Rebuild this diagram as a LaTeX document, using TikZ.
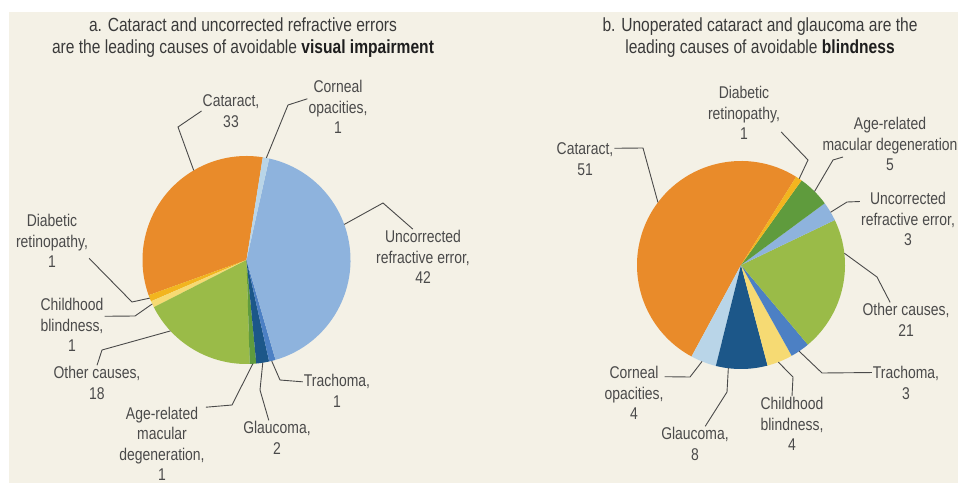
\documentclass[tikz,border=0pt]{standalone}
\usepackage{fontspec}
\setmainfont{Liberation Sans}[FakeStretch=0.82]
\usetikzlibrary{calc}
\definecolor{cream}{HTML}{F4F1E6}
\definecolor{labgray}{HTML}{4A4A4A}
\definecolor{leadgray}{HTML}{4A4A4A}
\definecolor{ttlgray}{HTML}{3A3A3A}
\definecolor{ttlbold}{HTML}{1E1E1E}
\definecolor{cataract}{HTML}{E98B2A}
\definecolor{uncorr}{HTML}{8EB3DD}
\definecolor{corneal}{HTML}{B9D5E8}
\definecolor{other}{HTML}{9ABB48}
\definecolor{amd}{HTML}{5F9B3D}
\definecolor{glaucoma}{HTML}{1C5789}
\definecolor{trachoma}{HTML}{4C80C4}
\definecolor{childhood}{HTML}{F6DA73}
\definecolor{diabetic}{HTML}{F2B51F}
\begin{document}
\begin{tikzpicture}[x=1pt,y=1pt]
          \tikzstyle{lbl}=[align=center,inner sep=1pt,text=labgray,font=\fontsize{17}{20.5}\selectfont];
          \tikzstyle{ttl}=[align=center,inner sep=1pt,text=ttlgray,font=\fontsize{19}{22}\selectfont];
          \tikzstyle{leader}=[draw=leadgray,line width=0.9pt];
          \useasboundingbox (0,0) rectangle (958,483);
          \fill[cream] (9,0) rectangle (958,471);
          \coordinate (pa) at (246.5,223);
          \coordinate (pb) at (741,218);
          % a. visual impairment (1% = 3.6 deg)
          \fill[cataract] (pa) -- ++(81:104pt) arc[start angle=81,end angle=199.8,radius=104pt] -- cycle;
          \fill[diabetic] (pa) -- ++(199.8:104pt) arc[start angle=199.8,end angle=203.4,radius=104pt] -- cycle;
          \fill[childhood] (pa) -- ++(203.4:104pt) arc[start angle=203.4,end angle=207,radius=104pt] -- cycle;
          \fill[other] (pa) -- ++(207:104pt) arc[start angle=207,end angle=271.8,radius=104pt] -- cycle;
          \fill[amd] (pa) -- ++(271.8:104pt) arc[start angle=271.8,end angle=275.4,radius=104pt] -- cycle;
          \fill[glaucoma] (pa) -- ++(275.4:104pt) arc[start angle=275.4,end angle=282.6,radius=104pt] -- cycle;
          \fill[trachoma] (pa) -- ++(282.6:104pt) arc[start angle=282.6,end angle=286.2,radius=104pt] -- cycle;
          \fill[uncorr] (pa) -- ++(286.2:104pt) arc[start angle=286.2,end angle=437.4,radius=104pt] -- cycle;
          \fill[corneal] (pa) -- ++(77.4:104pt) arc[start angle=77.4,end angle=81,radius=104pt] -- cycle;
          % b. blindness
          \fill[cataract] (pb) -- ++(58:104pt) arc[start angle=58,end angle=241.6,radius=104pt] -- cycle;
          \fill[corneal] (pb) -- ++(241.6:104pt) arc[start angle=241.6,end angle=256,radius=104pt] -- cycle;
          \fill[glaucoma] (pb) -- ++(256:104pt) arc[start angle=256,end angle=284.8,radius=104pt] -- cycle;
          \fill[childhood] (pb) -- ++(284.8:104pt) arc[start angle=284.8,end angle=299.2,radius=104pt] -- cycle;
          \fill[trachoma] (pb) -- ++(299.2:104pt) arc[start angle=299.2,end angle=310,radius=104pt] -- cycle;
          \fill[other] (pb) -- ++(310:104pt) arc[start angle=310,end angle=385.6,radius=104pt] -- cycle;
          \fill[uncorr] (pb) -- ++(25.6:104pt) arc[start angle=25.6,end angle=36.4,radius=104pt] -- cycle;
          \fill[amd] (pb) -- ++(36.4:104pt) arc[start angle=36.4,end angle=54.4,radius=104pt] -- cycle;
          \fill[diabetic] (pb) -- ++(54.4:104pt) arc[start angle=54.4,end angle=58,radius=104pt] -- cycle;
          % titles
          \node[ttl] (titleA) at (243,445) {a. Cataract and uncorrected refractive errors\\are the leading causes of avoidable \textcolor{ttlbold}{\textbf{visual impairment}}};
          \node[ttl] (titleB) at (760,445) {b. Unoperated cataract and glaucoma are the\\leading causes of avoidable \textcolor{ttlbold}{\textbf{blindness}}};
          % labels a
          \node[lbl] (cataA) at (231,372) {Cataract,\\33};
          \node[lbl] (cornA) at (338,376) {Corneal\\opacities,\\1};
          \node[lbl] (uncA) at (423,226) {Uncorrected\\refractive error,\\42};
          \node[lbl] (traA) at (337,92) {Trachoma,\\1};
          \node[lbl] (glaA) at (277,45) {Glaucoma,\\2};
          \node[lbl] (amdA) at (162,39) {Age-related\\macular\\degeneration,\\1};
          \node[lbl] (othA) at (97,100) {Other causes,\\18};
          \node[lbl] (chiA) at (72,158) {Childhood\\blindness,\\1};
          \node[lbl] (diaA) at (52,242) {Diabetic\\retinopathy,\\1};
          % labels b
          \node[lbl] (diaB) at (744,370) {Diabetic\\retinopathy,\\1};
          \node[lbl] (amdB) at (890,339) {Age-related\\macular degeneration\\5};
          \node[lbl] (uncB) at (908,264) {Uncorrected\\refractive error,\\3};
          \node[lbl] (othB) at (906,163) {Other causes,\\21};
          \node[lbl] (traB) at (906,100) {Trachoma,\\3};
          \node[lbl] (chiB) at (792,59) {Childhood\\blindness,\\4};
          \node[lbl] (glaB) at (695,39) {Glaucoma,\\8};
          \node[lbl] (corB) at (634,90) {Corneal\\opacities,\\4};
          \node[lbl] (catB) at (585,324) {Cataract,\\51};
          % rim points
          \coordinate (rCataA) at ($(pa)+(120.5:104pt)$);
          \coordinate (rCornA) at ($(pa)+(79:104pt)$);
          \coordinate (rUncA) at ($(pa)+(20:104pt)$);
          \coordinate (rTraA) at ($(pa)+(-76:104pt)$);
          \coordinate (rGlaA) at ($(pa)+(-81:104pt)$);
          \coordinate (rAmdA) at ($(pa)+(-86.5:104pt)$);
          \coordinate (rOthA) at ($(pa)+(-137:104pt)$);
          \coordinate (rChiA) at ($(pa)+(-155:104pt)$);
          \coordinate (rDiaA) at ($(pa)+(-158.5:104pt)$);
          \coordinate (rDiaB) at ($(pb)+(56:104pt)$);
          \coordinate (rAmdB) at ($(pb)+(45:104pt)$);
          \coordinate (rUncB) at ($(pb)+(30.5:104pt)$);
          \coordinate (rOthB) at ($(pb)+(6.5:104pt)$);
          \coordinate (rTraB) at ($(pb)+(-56:104pt)$);
          \coordinate (rChiB) at ($(pb)+(-69:104pt)$);
          \coordinate (rGlaB) at ($(pb)+(-97:104pt)$);
          \coordinate (rCorB) at ($(pb)+(-112:104pt)$);
          \coordinate (rCatB) at ($(pb)+(143:104pt)$);
          % leaders
          \draw[leader] (cataA.west) -- (178,356) -- (rCataA);
          \draw[leader] (cornA.165) -- (288,378) -- (rCornA);
          \draw[leader] (uncA.110) -- (383,280) -- (rUncA);
          \draw[leader] (traA.165) -- (280,103) -- (rTraA);
          \draw[leader] (glaA.115) -- (260,93) -- (rGlaA);
          \draw[leader] (amdA.40) -- (232,78) -- (rAmdA);
          \draw[leader] (othA.north) -- (102,133) -- (rOthA);
          \draw[leader] (chiA.15) -- (135,167) -- (rChiA);
          \draw[leader] (diaA.-25) -- (132,181) -- (rDiaA);
          \draw[leader] (diaB.-27) -- (808,323) -- (rDiaB);
          \draw[leader] ([xshift=-47pt,yshift=-13pt]amdB.center) -- (833,323) -- (rAmdB);
          \draw[leader] (uncB.160) -- (847,281) -- (rUncB);
          \draw[leader] (othB.132) -- (877,206) -- (rOthB);
          \draw[leader] (traB.163) -- (822,110) -- (rTraB);
          \draw[leader] (chiB.north) -- (793,106) -- (rChiB);
          \draw[leader] (glaB.60) -- (727,91) -- (rGlaB);
          \draw[leader] (corB.28) -- (690,106) -- (rCorB);
          \draw[leader] (catB.20) -- (643,335) -- (rCatB);
      \end{tikzpicture}
\end{document}
